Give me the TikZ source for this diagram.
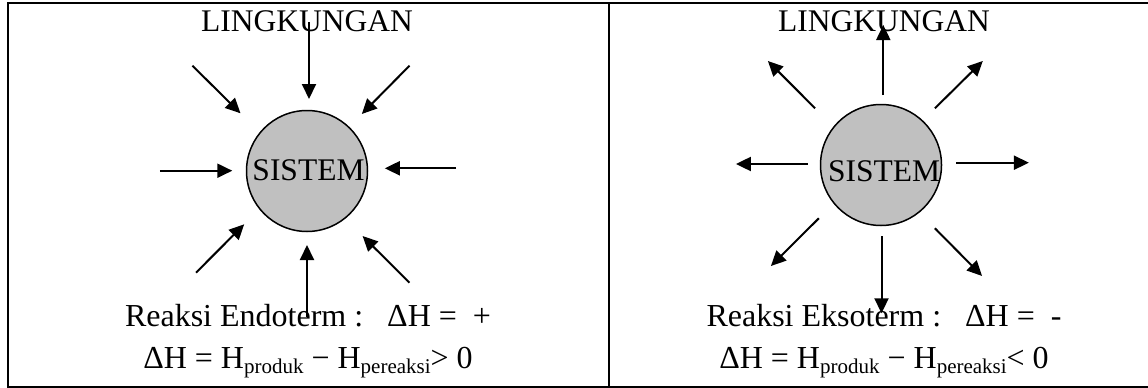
\documentclass[tikz,border=0pt]{standalone}
\usepackage{fontspec}
\setmainfont{Liberation Serif}
\usetikzlibrary{arrows.meta}
\definecolor{sysgray}{RGB}{192,192,192}
\newcommand\subtx[1]{\raisebox{-5pt}{\fontsize{21}{21}\selectfont #1}}
\begin{document}
\begin{tikzpicture}[x=1pt,y=-1pt,
  frame/.style={line width=2pt},
  arr/.style={line width=2pt,-{Triangle[length=15pt,width=14pt]}},
  sysc/.style={circle,draw,line width=1.5pt,fill=sysgray,minimum size=121pt,inner sep=0pt},
  big/.style={inner sep=0pt,anchor=base,font=\fontsize{31.5}{36}\selectfont},
  eq/.style={inner sep=0pt,anchor=base,font=\fontsize{32}{38}\selectfont}]
\useasboundingbox (0,0) rectangle (1148,388);
% frame
\coordinate (ftr) at (1148,3);
\coordinate (ftl) at (8,3);
\coordinate (fbl) at (8,386.5);
\coordinate (fbr) at (1148,386.5);
\coordinate (dt) at (608.7,3);
\coordinate (db) at (608.7,386.5);
\draw[frame] (ftr) -- (ftl) -- (fbl) -- (fbr);
\draw[frame] (dt) -- (db);
% left panel
\node[sysc] (cL) at (307,171) {};
\node[big] (lingL) at (307,31.7) {LINGKUNGAN};
\node[big] (sysL) at (308.5,180) {SISTEM};
\node[eq] (eqL1) at (308,326.7) {Reaksi Endoterm :~~~ΔH =~~+};
\node[eq] (eqL2) at (308,368) {ΔH = H\subtx{produk} − H\subtx{pereaksi}> 0};
\coordinate (L1s) at (309,22);     \coordinate (L1e) at (309,99);
\coordinate (L2s) at (192.4,65.7); \coordinate (L2e) at (240.5,113.3);
\coordinate (L3s) at (409.5,65.7); \coordinate (L3e) at (361.8,114);
\coordinate (L4s) at (159.8,170.7);\coordinate (L4e) at (232.3,170.7);
\coordinate (L5s) at (456,168.3);  \coordinate (L5e) at (384.8,168.3);
\coordinate (L6s) at (196,272.7);  \coordinate (L6e) at (244.2,224.3);
\coordinate (L7s) at (307,316.7);  \coordinate (L7e) at (307,245);
\coordinate (L8s) at (409.5,282.7);\coordinate (L8e) at (362.6,236);
\foreach \i in {1,...,8} {\draw[arr] (L\i s) -- (L\i e);}
% right panel
\node[sysc] (cR) at (881,165) {};
\node[big] (lingR) at (884,31.7) {LINGKUNGAN};
\node[big] (sysR) at (884,181) {SISTEM};
\node[eq] (eqR1) at (884,326.7) {Reaksi Eksoterm :~~~ΔH =~~-};
\node[eq] (eqR2) at (884,368) {ΔH = H\subtx{produk} − H\subtx{pereaksi}< 0};
\coordinate (R1s) at (883.3,95);   \coordinate (R1e) at (883.3,25);
\coordinate (R2s) at (815.1,108.3);\coordinate (R2e) at (767.9,61);
\coordinate (R3s) at (934.9,108.3);\coordinate (R3e) at (982.8,61);
\coordinate (R4s) at (807.7,164);  \coordinate (R4e) at (735.9,164);
\coordinate (R5s) at (956.3,162.7);\coordinate (R5e) at (1028.9,162.7);
\coordinate (R6s) at (818.8,218.3);\coordinate (R6e) at (770.9,266);
\coordinate (R7s) at (881.5,236);  \coordinate (R7e) at (881.5,313.3);
\coordinate (R8s) at (934.9,228.3);\coordinate (R8e) at (982.1,276);
\foreach \i in {1,...,8} {\draw[arr] (R\i s) -- (R\i e);}
\end{tikzpicture}
\end{document}
